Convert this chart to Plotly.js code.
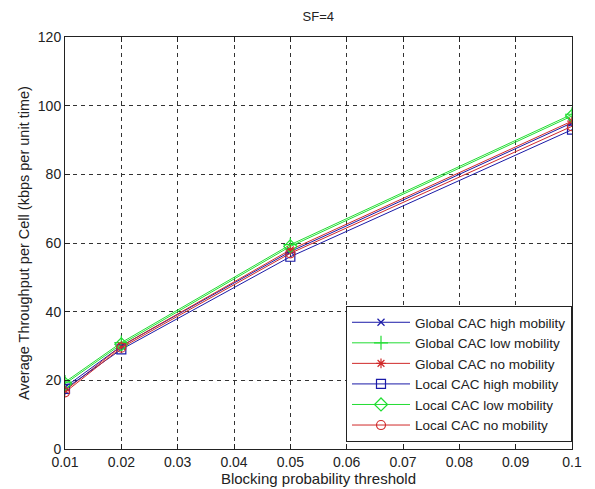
<!DOCTYPE html>
<html>
<head>
<meta charset="utf-8">
<script src="https://cdn.plot.ly/plotly-3.0.1.min.js"></script>
<style>html,body{margin:0;padding:0;background:#fff;}#chart{width:595px;height:489px;}</style>
</head>
<body>
<div id="chart"></div>
<script>
const xValues = [0.01, 0.02, 0.05, 0.1];
const globalHigh = [18.0, 30.0, 57.5, 95.0];
const globalLow = [19.5, 31.0, 59.5, 97.5];
const globalNo = [17.0, 30.0, 58.0, 95.5];
const localHigh = [17.5, 29.0, 56.0, 93.0];
const localLow = [19.0, 30.5, 59.0, 97.0];
const localNo = [16.5, 29.5, 57.0, 94.0];
const seriesNames = ["Global CAC high mobility","Global CAC low mobility","Global CAC no mobility","Local CAC high mobility","Local CAC low mobility","Local CAC no mobility"];
const xTickVals = [0.01,0.02,0.03,0.04,0.05,0.06,0.07,0.08,0.09,0.1];
const xTickText = ["0.01","0.02","0.03","0.04","0.05","0.06","0.07","0.08","0.09","0.1"];

const blue = "#1a1aa8", green = "#22dd33", red = "#d02a2a";
const styles = [
  {c: blue, s: "x-thin-open", z: 7},
  {c: green, s: "cross-thin-open", z: 10},
  {c: red, s: "asterisk-open", z: 8},
  {c: blue, s: "square-open", z: 9},
  {c: green, s: "diamond-open", z: 10},
  {c: red, s: "circle-open", z: 9}
];
const ys = [globalHigh, globalLow, globalNo, localHigh, localLow, localNo];
const traces = ys.map((y, i) => ({
  x: xValues, y: y, name: seriesNames[i], type: "scatter", mode: "lines+markers",
  line: {color: styles[i].c, width: 1},
  marker: {symbol: styles[i].s, size: styles[i].z, color: styles[i].c, line: {color: styles[i].c, width: 1.2}}
}));

const fam = "Liberation Sans, Arial, sans-serif";
const txt = "#222";
const layout = {
  width: 595, height: 489,
  margin: {l: 65, r: 23, t: 37, b: 40},
  paper_bgcolor: "#fff", plot_bgcolor: "#fff",
  font: {family: fam, size: 14, color: txt},
  title: {text: "SF=4", x: 0.535, xanchor: "center", y: 0.975, yanchor: "top", font: {family: fam, size: 13, color: txt}},
  showlegend: true,
  legend: {x: 1, xanchor: "right", y: 0.017, yanchor: "bottom", bgcolor: "#fff", bordercolor: "#222", borderwidth: 1,
           font: {family: fam, size: 13.5, color: txt}, itemwidth: 58, tracegroupgap: 0},
  xaxis: {range: [0.01, 0.1], tickvals: xTickVals, ticktext: xTickText, ticks: "inside", ticklen: 5, tickcolor: "#222",
          tickfont: {family: fam, size: 14, color: txt},
          showline: true, linecolor: "#222", linewidth: 1, mirror: "ticks", showgrid: true, gridcolor: "#333", griddash: "4px,4px", gridwidth: 1,
          zeroline: false, title: {text: "Blocking probability threshold", standoff: 1, font: {family: fam, size: 15, color: txt}}},
  yaxis: {range: [0, 120], dtick: 20, ticks: "inside", ticklen: 5, tickcolor: "#222",
          tickfont: {family: fam, size: 14, color: txt},
          showline: true, linecolor: "#222", linewidth: 1, mirror: "ticks", showgrid: true, gridcolor: "#333", griddash: "4px,4px", gridwidth: 1,
          zeroline: false, title: {text: "Average Throughput per Cell (kbps per unit time)", standoff: 4, font: {family: fam, size: 14.5, color: txt}}}
};
Plotly.newPlot("chart", traces, layout, {displayModeBar: false, staticPlot: true});
</script>
</body>
</html>
